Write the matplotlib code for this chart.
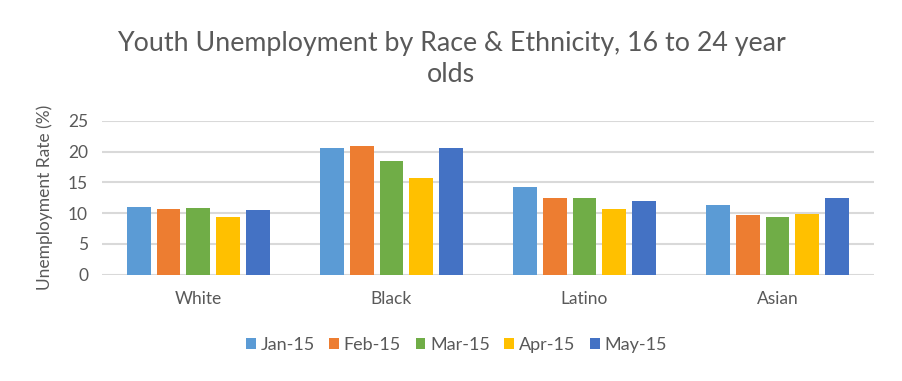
import numpy as np
import matplotlib.pyplot as plt

plt.rcParams['font.family'] = ['Lato', 'DejaVu Sans']

groups = ['White', 'Black', 'Latino', 'Asian']
months = ['Jan-15', 'Feb-15', 'Mar-15', 'Apr-15', 'May-15']
rates = {
    'Jan-15': [11.0, 20.6, 14.2, 11.3],
    'Feb-15': [10.7, 20.9, 12.4, 9.7],
    'Mar-15': [10.9, 18.4, 12.4, 9.4],
    'Apr-15': [9.4, 15.7, 10.7, 9.8],
    'May-15': [10.5, 20.6, 12.0, 12.4],
}
colors = ['#5B9BD5', '#ED7D31', '#70AD47', '#FFC000', '#4472C4']
text_col = '#595959'

fig = plt.figure(figsize=(9.02, 3.81), dpi=100)
ax = fig.add_axes([0.113, 0.279, 0.856, 0.404])

x = np.arange(len(groups))
step = 0.155
width = 0.124
for i, m in enumerate(months):
    ax.bar(x + (i - 2) * step, rates[m], width, color=colors[i], label=m, zorder=3)

ax.set_xlim(-0.5, len(groups) - 0.5)
ax.set_ylim(0, 25)
ax.set_yticks(range(0, 26, 5))
ax.set_xticks(x)
ax.set_xticklabels(groups)
ax.grid(axis='y', color='#D9D9D9', linewidth=1.5, zorder=0)
for s in ax.spines.values():
    s.set_visible(False)
ax.tick_params(length=0, colors=text_col, labelsize=12.5)
ax.tick_params(axis='y', pad=10)
ax.tick_params(axis='x', pad=12)
ax.set_ylabel('Unemployment Rate (%)', color=text_col, fontsize=12.5, labelpad=11)

fig.text(0.5, 0.846, 'Youth Unemployment by Race & Ethnicity, 16 to 24 year\nolds',
         ha='center', va='center', fontsize=19.3, color=text_col, linespacing=1.3)

fig.legend(loc='center', bbox_to_anchor=(0.506, 0.094), ncol=5, frameon=False,
           fontsize=13, labelcolor=text_col, handlelength=0.55, handleheight=0.55,
           handletextpad=0.25, columnspacing=0.8)

fig.savefig('out.png', dpi=100)
